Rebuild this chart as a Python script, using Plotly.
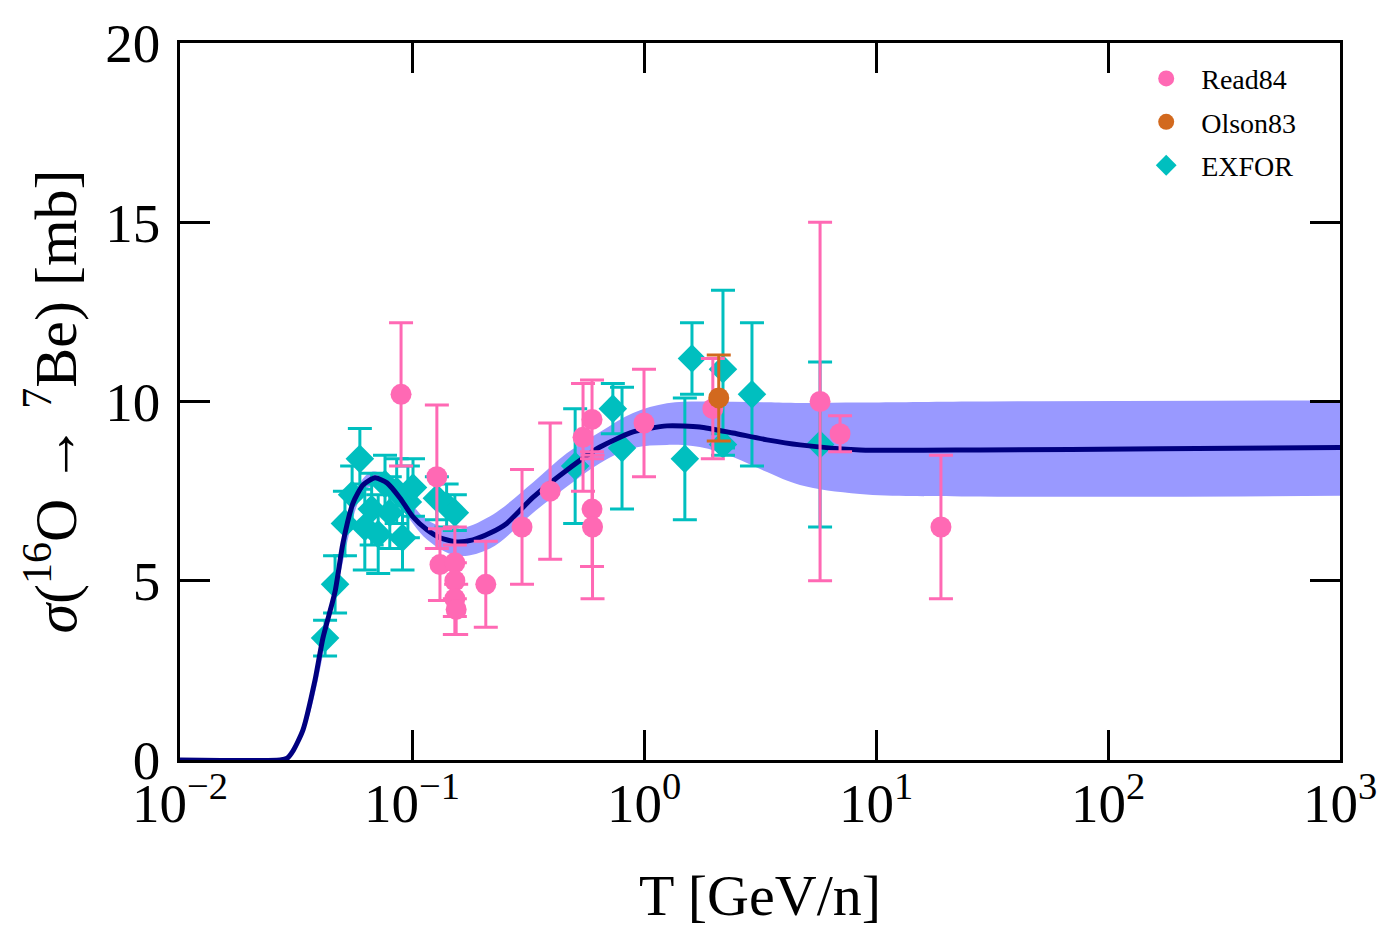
import plotly.graph_objects as go

# ---- model curve (T in GeV/n, sigma in mb) ----
curve_T = [0.01, 0.0270, 0.0290, 0.0307, 0.0339, 0.0382, 0.0413, 0.0466, 0.0504, 0.0557,
           0.0615, 0.0693, 0.078, 0.0887, 0.101, 0.116, 0.132, 0.156, 0.183, 0.217, 0.256,
           0.333, 0.466, 0.646, 0.897, 1.256, 1.74, 2.42, 3.39, 4.70, 8.53, 28.1, 167, 1000]
curve_s = [0, 0, 0.05, 0.25, 0.84, 2.23, 3.4, 4.7, 6.05, 7.17,
           7.67, 7.87, 7.73, 7.31, 6.78, 6.42, 6.2, 6.08, 6.14, 6.33, 6.6,
           7.33, 8.09, 8.73, 9.15, 9.32, 9.29, 9.12, 8.93, 8.79, 8.65, 8.65, 8.68, 8.72]

# ---- uncertainty band ----
band_T = [0.0278, 0.0339, 0.0466, 0.0615, 0.0693, 0.0887, 0.116, 0.156, 0.217, 0.333, 0.466,
          0.646, 0.897, 1.256, 1.74, 2.42, 3.39, 4.70, 8.53, 28.1, 1000]
band_lo = [0, 0.75, 4.55, 7.45, 7.65, 7.05, 6.15, 5.7, 5.9, 6.9, 7.63,
           8.28, 8.7, 8.79, 8.73, 8.45, 8.03, 7.67, 7.42, 7.35, 7.37]
band_hi = [0, 0.9, 4.9, 7.85, 8.05, 7.55, 6.7, 6.45, 6.8, 7.75, 8.56,
           9.15, 9.68, 9.95, 10.0, 9.99, 9.98, 9.96, 9.97, 10.0, 10.03]

# ---- Read84 ----
read_T = [0.0897, 0.128, 0.132, 0.153, 0.153, 0.153, 0.155, 0.208, 0.298, 0.394,
          0.546, 0.597, 0.597, 0.600, 1.0, 1.98, 5.74, 7.0, 19.05]
read_s = [10.2, 7.9, 5.45, 5.5, 5.0, 4.5, 4.2, 4.9, 6.5, 7.5,
          9.0, 9.5, 7.0, 6.5, 9.4, 9.8, 10.0, 9.1, 6.5]
read_e = [2.0, 2.0, 1.0, 1.0, 1.0, 1.0, 0.7, 1.2, 1.6, 1.9,
          1.5, 1.1, 1.6, 2.0, 1.5, 1.4, 5.0, 0.5, 2.0]

# ---- Olson83 ----
olson_T = [2.10]
olson_s = [10.1]
olson_e = [1.2]

# ---- EXFOR ----
exfor_T = [0.0422, 0.0466, 0.0514, 0.0552, 0.0596, 0.0626, 0.0670, 0.0715, 0.0765, 0.0802,
           0.0859, 0.0910, 0.0960, 0.101, 0.128, 0.141, 0.153, 0.505, 0.734, 0.804,
           1.50, 1.61, 2.19, 2.19, 2.92, 5.74]
exfor_s = [3.4, 4.9, 6.6, 7.4, 8.4, 6.5, 7.0, 6.3, 7.7, 6.9,
           7.5, 6.2, 7.2, 7.6, 7.3, 7.1, 6.9, 8.2, 9.8, 8.7,
           8.4, 11.2, 10.9, 8.8, 10.2, 8.8]
exfor_e = [0.5, 0.8, 0.9, 0.8, 0.85, 1.2, 1.0, 1.1, 0.8, 1.0,
           0.9, 0.9, 1.0, 0.8, 0.6, 0.6, 0.5, 1.6, 0.7, 1.7,
           1.7, 1.0, 2.2, 0.3, 2.0, 2.3]

x_tickvals = [0.01, 0.1, 1, 10, 100, 1000]
x_ticktext = ["10<sup>−2</sup>", "10<sup>−1</sup>", "10<sup>0</sup>",
              "10<sup>1</sup>", "10<sup>2</sup>", "10<sup>3</sup>"]
y_tickvals = [0, 5, 10, 15, 20]

PINK = "#ff69b4"
BROWN = "#d2691e"
CYAN = "#00bfbf"
BAND = "#9999ff"
NAVY = "#000080"
FONT = "Liberation Serif"

fig = go.Figure()

fig.add_trace(go.Scatter(x=band_T, y=band_lo, mode="lines", line=dict(width=0, shape="spline"),
                         showlegend=False, hoverinfo="skip"))
fig.add_trace(go.Scatter(x=band_T, y=band_hi, mode="lines", line=dict(width=0, shape="spline"),
                         fill="tonexty", fillcolor=BAND, showlegend=False, hoverinfo="skip"))

fig.add_trace(go.Scatter(
    x=exfor_T, y=exfor_s, mode="markers", name="EXFOR", legendrank=3, legendgroup="c",
    marker=dict(symbol="diamond", size=22, color=CYAN),
    error_y=dict(type="data", array=exfor_e, color=CYAN, thickness=3, width=12)))

fig.add_trace(go.Scatter(x=curve_T, y=curve_s, mode="lines",
                         line=dict(color=NAVY, width=5, shape="spline", smoothing=0.6),
                         showlegend=False))

fig.add_trace(go.Scatter(
    x=read_T, y=read_s, mode="markers", name="Read84", legendrank=1, legendgroup="a",
    marker=dict(symbol="circle", size=21, color=PINK),
    error_y=dict(type="data", array=read_e, color=PINK, thickness=3, width=12)))

fig.add_trace(go.Scatter(
    x=olson_T, y=olson_s, mode="markers", name="Olson83", legendrank=2, legendgroup="b",
    marker=dict(symbol="circle", size=21, color=BROWN),
    error_y=dict(type="data", array=olson_e, color=BROWN, thickness=3, width=12)))

axis_common = dict(showline=True, linecolor="black", linewidth=2.5, mirror="ticks",
                   ticks="inside", ticklen=30, tickwidth=2.5, tickcolor="black",
                   showgrid=False, zeroline=False,
                   tickfont=dict(family=FONT, size=55, color="black"))

fig.update_xaxes(type="log", range=[-2, 3], tickvals=x_tickvals, ticktext=x_ticktext,
                 ticklabelstandoff=-7,
                 title=dict(text="T [GeV/n]", font=dict(family=FONT, size=58, color="black"),
                            standoff=42),
                 **axis_common)
fig.update_yaxes(range=[0, 20], tickvals=y_tickvals, ticklabelstandoff=6,
                 title=dict(text="<i>σ</i>(<sup>16</sup>O → <sup>7</sup>Be) [mb]",
                            font=dict(family=FONT, size=60, color="black"), standoff=10),
                 **axis_common)

fig.update_layout(
    width=1395, height=945,
    margin=dict(l=180, r=55, t=43, b=185),
    plot_bgcolor="white", paper_bgcolor="white",
    font=dict(family=FONT, color="black"),
    legend=dict(x=0.82, y=0.985, xanchor="left", yanchor="top", traceorder="grouped",
                font=dict(family=FONT, size=28, color="black"),
                bgcolor="rgba(0,0,0,0)", itemwidth=60, tracegroupgap=4),
)

fig.write_html("out.html")
